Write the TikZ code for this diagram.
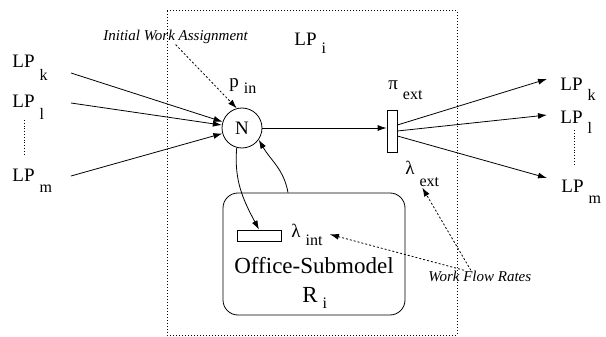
\documentclass[tikz,border=0pt]{standalone}
\usepackage{fontspec}
\setmainfont{Liberation Serif}
\usetikzlibrary{positioning,arrows.meta}

% subscripts are set apart and lowered
\newcommand{\subfont}{\fontsize{16}{16}\selectfont}
\newcommand{\withsub}[3][10pt]{#2\hspace{5pt}\raisebox{-#1}{\subfont #3}}

\begin{document}
\begin{tikzpicture}[x=1pt,y=-1pt,line width=0.8pt,
    >={Latex[length=9pt,width=6pt]},
    every node/.style={inner sep=0pt},
    tag/.style={font=\fontsize{19}{19}\selectfont},
    bigtag/.style={font=\fontsize{23}{23}\selectfont},
    note/.style={font=\itshape\fontsize{15}{15}\selectfont},
    place/.style={draw,circle,minimum size=40,font=\fontsize{19}{19}\selectfont},
    trans/.style={draw,fill=white,rectangle},
    flow/.style={->},
    hint/.style={->,dash pattern=on 2pt off 2pt}]

    \useasboundingbox (0,0) rectangle (606,337);

    % the logical process LP_i
    \draw[dotted,line width=1pt] (167,11) rectangle (457,335);
    \node[tag,anchor=base west] (lpi) at (294,46) {\withsub[8pt]{LP}{i}};

    \node[place] (N) at (242,128) {N};
    \node[tag,anchor=base west] (pin) at (229,88) {\withsub[6pt]{p}{in}};
    \node[trans,minimum width=10,minimum height=42] (text) at (392,131) {};
    \node[tag,anchor=base west] (piext) at (388,90) {\withsub{π}{ext}};
    \node[tag,anchor=base west] (lext) at (405,175) {\withsub[12pt]{λ}{ext}};

    % office submodel R_i
    \node[draw,rounded corners=15,minimum width=182,minimum height=122] (office) at (314,254) {};
    \node[draw,minimum width=44,minimum height=11] (tint) at (259,235.5) {};
    \node[tag,anchor=base west] (lint) at (291,237) {\withsub[8pt]{λ}{int}};
    \node[bigtag,anchor=base] (title) at (314,273) {Office-Submodel};
    \node[bigtag,anchor=base west] (ri) at (302,302) {\withsub[6pt]{R}{i}};

    % neighbouring processes
    \node[tag,anchor=base west] (lk) at (12,68) {\withsub[13pt]{LP}{k}};
    \node[tag,anchor=base west] (ll) at (12,108) {\withsub[12pt]{LP}{l}};
    \node[tag,anchor=base west] (lm) at (12,182) {\withsub[10pt]{LP}{m}};
    \node[tag,anchor=base west] (rk) at (560,91) {\withsub[10pt]{LP}{k}};
    \node[tag,anchor=base west] (rl) at (560,124) {\withsub[10pt]{LP}{l}};
    \node[tag,anchor=base west] (rm) at (561,193) {\withsub[10pt]{LP}{m}};
    \draw[dotted] (24,120) -- (24,155);
    \draw[dotted] (574,130) -- (574,165);

    \coordinate (ink) at (71,73);
    \coordinate (inl) at (71,103);
    \coordinate (inm) at (71,176);
    \coordinate (outk) at (547,79);
    \coordinate (outl) at (547,115);
    \coordinate (outm) at (547,178);

    \node[note,anchor=base west] (iwa) at (103,41) {Initial Work Assignment};
    \node[note,anchor=base west] (wfr) at (428,281) {Work Flow Rates};

    % flows
    \draw[flow] (ink) -- (N);
    \draw[flow] (inl) -- (N);
    \draw[flow] (inm) -- (N);
    \draw[flow] (N.east) -- (N.east -| text.west);
    \draw[flow] ([yshift=6pt]text.east) -- (outk);
    \draw[flow] (text.east) -- (outl);
    \draw[flow] ([yshift=-5pt]text.east) -- (outm);
    \draw[flow] (N.255) to[out=-95,in=118] (tint.north);
    \draw[flow] ([xshift=-26pt]office.north) to[out=100,in=-60] (N.-35);

    % annotations
    \draw[hint] (iwa.south) -- (N.105);
    \draw[hint] ([xshift=-9pt]wfr.north) -- (lext.south);
    \draw[hint] ([xshift=-16pt]wfr.north) -- ([xshift=7pt]lint.east);

\end{tikzpicture}
\end{document}
